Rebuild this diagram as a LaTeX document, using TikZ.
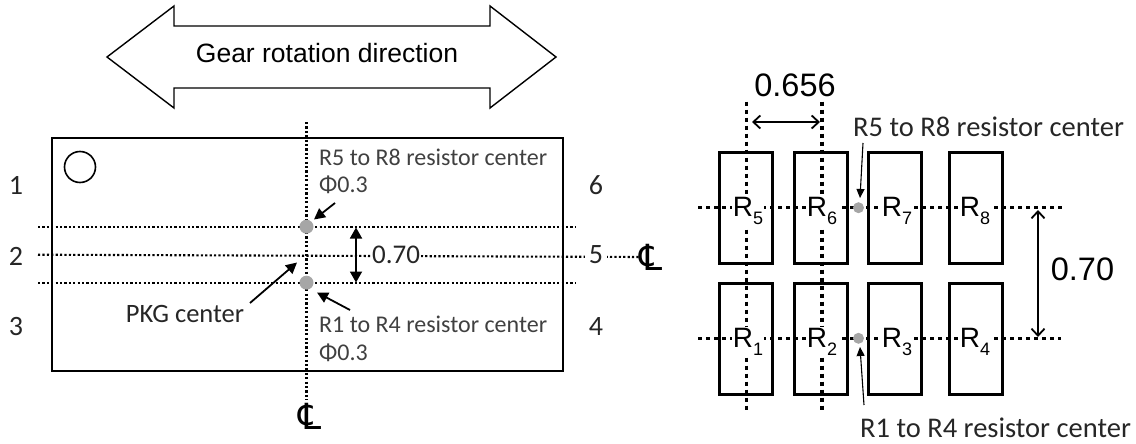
\documentclass[tikz,border=0pt]{standalone}
\usepackage{fontspec}
\setmainfont{Carlito}
\newfontfamily\arialf{Liberation Sans}
\newfontfamily\serifcl{DejaVu Sans}
\usetikzlibrary{arrows.meta}
\definecolor{txtgray}{HTML}{404040}
\definecolor{dotgray}{HTML}{A6A6A6}
\newcommand{\rlab}[1]{\arialf\fontsize{28}{28}\selectfont R\raisebox{-0.28em}{\fontsize{18}{18}\selectfont #1}}
\tikzset{
  pkgtext/.style={anchor=west,inner sep=0pt,text=txtgray,font=\fontsize{24}{26}\selectfont},
  pinnum/.style={inner sep=1pt,text=black!85,font=\fontsize{28}{30}\selectfont},
  thindot/.style={line width=2.1pt,dash pattern=on 2.2pt off 2.2pt},
  thickdot/.style={line width=3.4pt,dash pattern=on 4pt off 4pt},
  blackarrow/.style={line width=1.8pt,-{Triangle[length=11pt,width=11pt]},shorten >=0pt},
  dblarrow/.style={line width=1.8pt,{Triangle[length=11pt,width=12pt]}-{Triangle[length=11pt,width=12pt]}},
  openarrow/.style={line width=1.8pt,{Straight Barb[length=7pt,width=13pt]}-{Straight Barb[length=7pt,width=13pt]}},
  thinarrow/.style={line width=1.1pt,-{Triangle[length=9pt,width=8pt]}},
  resbox/.style={draw,line width=2.7pt,minimum width=53pt,minimum height=111pt,inner sep=0pt},
  rname/.style={fill=white,inner sep=1pt},
  spot/.style={circle,fill=dotgray,inner sep=0pt},
  dimtext/.style={font=\arialf\fontsize{32.5}{33}\selectfont,inner sep=1pt},
  cl/.style={inner sep=0pt,font=\serifcl\fontsize{36}{38}\selectfont},
  sidelabel/.style={anchor=west,inner sep=0pt,text=black!85,font=\fontsize{28.5}{30}\selectfont}
}
\begin{document}
\begin{tikzpicture}[x=1pt,y=-1pt]
\useasboundingbox (0,0) rectangle (1136,444);
% gear arrow
\draw[line width=1.4pt,line join=miter] (107,57) -- (174,6) -- (174,26) -- (490,26) -- (490,6) -- (556,57) -- (490,108) -- (490,88) -- (174,88) -- (174,108) -- cycle;
\node[inner sep=0pt,font=\arialf\fontsize{26.5}{28}\selectfont] (gear) at (327,53) {Gear rotation direction};
% package
\node[draw,line width=2pt,minimum width=511pt,minimum height=233pt,inner sep=0pt] (pkg) at (307.5,254.5) {};
\node[draw,circle,line width=1.6pt,minimum size=31pt,inner sep=0pt] (pin1) at (80,167) {};
\coordinate (hAl) at (38,226.7); \coordinate (hAr) at (576,226.7);
\coordinate (hBl) at (38,254.7);
\coordinate (hCl) at (38,282.7); \coordinate (hCr) at (576,282.7);
\coordinate (vT) at (306.5,122); \coordinate (vB) at (306.5,400);
\draw[thindot] (hAl) -- (hAr);
\draw[thindot] (hCl) -- (hCr);
\draw[thindot] (vT) -- (vB);
\node[cl] (clr) at (651,257) {℄};
\node[cl] (clb) at (310,416) {℄};
\draw[thindot] (hBl) -- (clr.west);
\node[spot,minimum size=14pt] (sA) at (306.5,226.7) {};
\node[spot,minimum size=14pt] (sC) at (306.5,282.7) {};
\node[fill=white,inner sep=1pt,font=\fontsize{27}{28}\selectfont,text=black!85] (d70) at (396,255) {0.70};
\node[pinnum] at (16,185) (p1) {1};
\node[pinnum] at (16,256) (p2) {2};
\node[pinnum] at (16,327) (p3) {3};
\node[pinnum] at (596,185) (p6) {6};
\node[pinnum,fill=white,inner sep=4pt] at (596,255) (p5) {5};
\node[pinnum] at (596,327) (p4) {4};
\node[pkgtext] (t58) at (319,157) {R5 to R8 resistor center};
\node[pkgtext] (phiA) at (319,185) {Φ0.3};
\node[pkgtext] (t14) at (319,324) {R1 to R4 resistor center};
\node[pkgtext] (phiB) at (319,353) {Φ0.3};
\node[inner sep=0pt,text=black!85,font=\fontsize{26.5}{28}\selectfont] (pkgc) at (185,314) {PKG center};
\coordinate (aAs) at (335,203); \coordinate (aAe) at (314,219.5);
\coordinate (aCs) at (350,310); \coordinate (aCe) at (317,292.5);
\coordinate (aPs) at (250,303); \coordinate (aPe) at (297,262.5);
\coordinate (dT) at (356,227.5); \coordinate (dB) at (356,282.5);
\draw[blackarrow] (aAs) -- (aAe);
\draw[blackarrow] (aCs) -- (aCe);
\draw[blackarrow] (aPs) -- (aPe);
\draw[dblarrow] (dT) -- (dB);
% resistors
\node[resbox] (b5) at (746,207.8) {};
\node[resbox] (b6) at (821.3,207.8) {};
\node[resbox] (b7) at (895.3,207.8) {};
\node[resbox] (b8) at (975.7,207.8) {};
\node[resbox] (b1) at (746,339.2) {};
\node[resbox] (b2) at (821.3,339.2) {};
\node[resbox] (b3) at (895.3,339.2) {};
\node[resbox] (b4) at (975.7,339.2) {};
\coordinate (uL) at (698,207.7); \coordinate (uR) at (1063,207.7);
\coordinate (lL) at (698,338.3); \coordinate (lR) at (1061,338.3);
\coordinate (v1T) at (746.7,101.7); \coordinate (v1B) at (746.7,413);
\coordinate (v2T) at (822,101.7); \coordinate (v2B) at (822,413);
\draw[thickdot] (uL) -- (uR);
\draw[thickdot] (lL) -- (lR);
\draw[thickdot] (v1T) -- (v1B);
\draw[thickdot] (v2T) -- (v2B);
\node[rname] (r5) at (748,211) {\rlab{5}};
\node[rname] (r6) at (822,211) {\rlab{6}};
\node[rname] (r7) at (897,211) {\rlab{7}};
\node[rname] (r8) at (975,211) {\rlab{8}};
\node[rname] (r1) at (748,342) {\rlab{1}};
\node[rname] (r2) at (822,342) {\rlab{2}};
\node[rname] (r3) at (897,342) {\rlab{3}};
\node[rname] (r4) at (975,342) {\rlab{4}};
\node[spot,minimum size=11pt] (sU) at (858.5,207.7) {};
\node[spot,minimum size=11pt] (sL) at (858.5,338.3) {};
\node[dimtext] (w656) at (795,85) {0.656};
\node[dimtext] (h70) at (1082.5,269) {0.70};
\node[sidelabel] (tU) at (853,127) {R5 to R8 resistor center};
\node[sidelabel] (tL) at (860,428) {R1 to R4 resistor center};
\coordinate (w1) at (752,122); \coordinate (w2) at (820,122);
\coordinate (h1) at (1038,210); \coordinate (h2) at (1038,337);
\draw[openarrow] (w1) -- (w2);
\draw[openarrow] (h1) -- (h2);
\coordinate (uAs) at (863,143); \coordinate (uAe) at (860,198);
\coordinate (lAs) at (864,405); \coordinate (lAe) at (860,347);
\draw[thinarrow] (uAs) -- (uAe);
\draw[thinarrow] (lAs) -- (lAe);
\end{tikzpicture}
\end{document}
